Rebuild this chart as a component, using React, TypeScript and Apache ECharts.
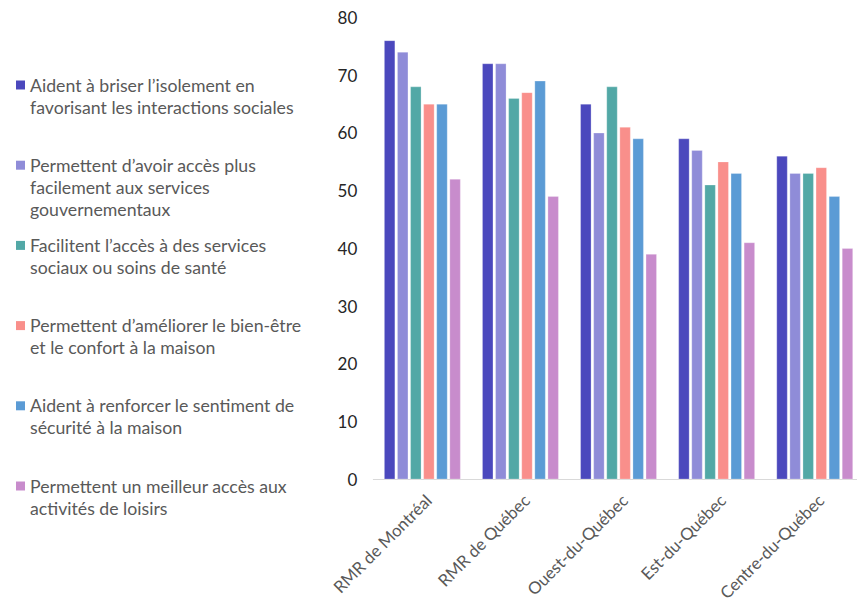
import React, { useEffect, useRef } from "react";
import * as echarts from "echarts";

const categories = ["RMR de Montréal", "RMR de Québec", "Ouest-du-Québec", "Est-du-Québec", "Centre-du-Québec"];
const seriesNames = [
  "Aident à briser l’isolement en\nfavorisant les interactions sociales",
  "Permettent d’avoir accès plus\nfacilement aux services\ngouvernementaux",
  "Facilitent l’accès à des services\nsociaux ou soins de santé",
  "Permettent d’améliorer le bien-être\net le confort à la maison",
  "Aident à renforcer le sentiment de\nsécurité à la maison",
  "Permettent un meilleur accès aux\nactivités de loisirs",
];
const colors = ["#4B48BD", "#8F8CD8", "#52A8A6", "#F98F8B", "#5B9BD5", "#C88CCC"];
const isolement = [76, 72, 65, 59, 56];
const gouvernementaux = [74, 72, 60, 57, 53];
const sante = [68, 66, 68, 51, 53];
const confort = [65, 67, 61, 55, 54];
const securite = [65, 69, 59, 53, 49];
const loisirs = [52, 49, 39, 41, 40];
const seriesValues = [isolement, gouvernementaux, sante, confort, securite, loisirs];
const yTicks = { min: 0, max: 80, interval: 10 };

const FONT = "Lato";

export default function App() {
  const ref = useRef<HTMLDivElement>(null);
  useEffect(() => {
    if (!ref.current) return;
    const chart = echarts.init(ref.current, undefined, { renderer: "svg" });
    const legendTop = 85;
    const legendStep = 80.2;
    const graphic: any[] = [];
    seriesNames.forEach((name, i) => {
      const cy = legendTop + i * legendStep;
      graphic.push({
        type: "rect",
        left: 16,
        top: cy - 4.5,
        shape: { width: 9, height: 9 },
        style: { fill: colors[i] },
        silent: true,
      });
      graphic.push({
        type: "text",
        left: 30,
        top: cy - 11,
        style: {
          text: name,
          fill: "#595959",
          font: `17.7px ${FONT}`,
          lineHeight: 22,
        },
        silent: true,
      });
    });
    chart.setOption({
      animation: false,
      grid: {
        left: 373.3,
        top: 17.3,
        bottom: 122.7,
        width: 490.5,
        containLabel: false,
        outerBoundsMode: "none",
      },
      xAxis: {
        type: "category",
        data: categories,
        axisLine: { show: true, lineStyle: { color: "#D9D9D9", width: 1 } },
        axisTick: { show: false },
        axisLabel: {
          rotate: 45,
          color: "#595959",
          fontSize: 16.8,
          fontFamily: FONT,
          margin: 12,
          verticalAlign: "top",
          interval: 0,
        },
      },
      yAxis: {
        type: "value",
        min: yTicks.min,
        max: yTicks.max,
        interval: yTicks.interval,
        axisLine: { show: false },
        axisTick: { show: false },
        splitLine: { show: false },
        axisLabel: { color: "#262626", fontSize: 17, fontFamily: FONT, margin: 16 },
      },
      series: seriesValues.map((vals, i) => ({
        type: "bar",
        name: seriesNames[i],
        data: vals,
        barWidth: 11,
        barGap: "19%",
        itemStyle: { color: colors[i], borderColor: "rgba(255,255,255,0.5)", borderWidth: 0.5 },
      })),
      graphic,
    });
    return () => chart.dispose();
  }, []);
  return (
    <div
      ref={ref}
      style={{ position: "absolute", left: 0, top: 0, width: 857, height: 602, background: "#fff" }}
    />
  );
}
